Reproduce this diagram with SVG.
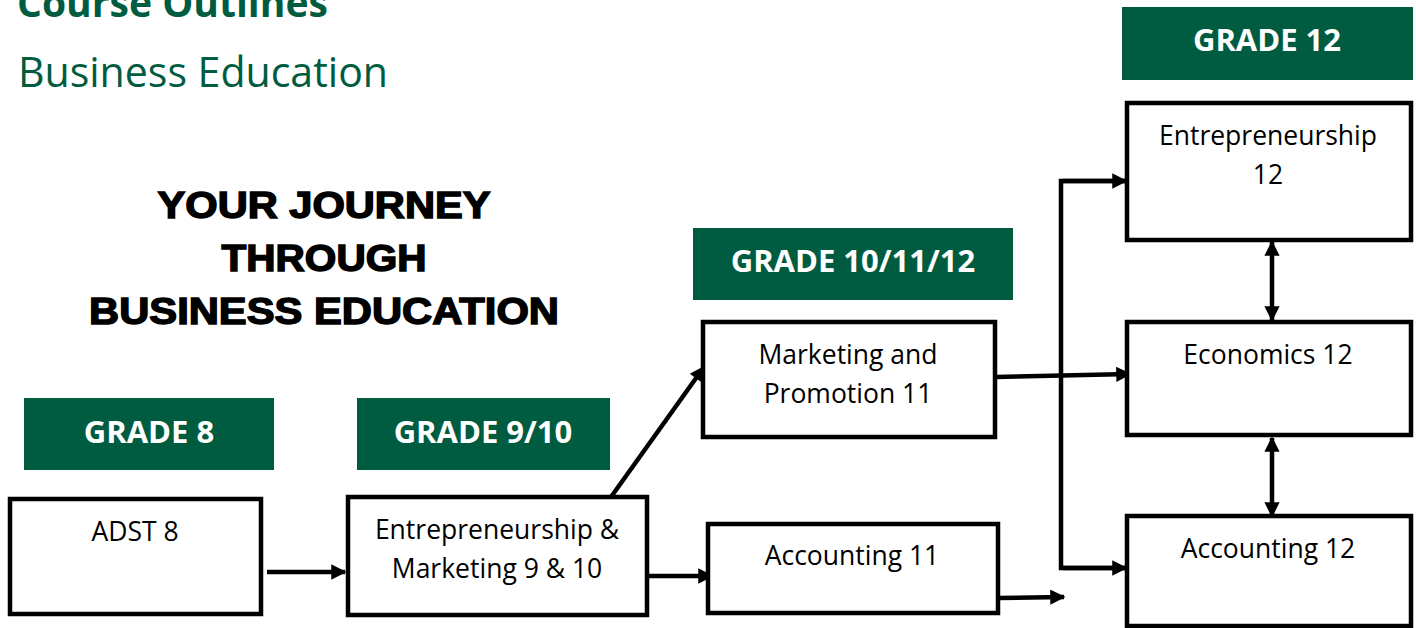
<svg xmlns="http://www.w3.org/2000/svg" width="1416" height="628" viewBox="0 0 1416 628">
<defs>
<style>
.hdr{font-family:"Open Sans","Liberation Sans",sans-serif;fill:#005C40}
.title{font-family:"Liberation Sans",Arial,sans-serif;font-weight:bold;font-size:36px;fill:#000;stroke:#000;stroke-width:1.4;text-anchor:middle}
.band{fill:#005C40}
.bandtxt{font-family:"Open Sans","Liberation Sans",sans-serif;font-weight:bold;font-size:31px;fill:#fff;text-anchor:middle}
.box{fill:#fff;stroke:#000;stroke-width:4.5}
.lbl{font-family:"Open Sans","Liberation Sans",sans-serif;font-size:26.5px;fill:#000;text-anchor:middle}
.ln{fill:none;stroke:#000;stroke-width:4.5}
</style>
<marker id="ah" viewBox="0 0 10 10" refX="9" refY="5" markerWidth="3.8" markerHeight="3.4" orient="auto" markerUnits="strokeWidth">
<path d="M0,0 L10,5 L0,10 z" fill="#000"/>
</marker>
<marker id="ahs" viewBox="0 0 10 10" refX="9" refY="5" markerWidth="3.8" markerHeight="3.4" orient="auto-start-reverse" markerUnits="strokeWidth">
<path d="M0,0 L10,5 L0,10 z" fill="#000"/>
</marker>
</defs>
<rect width="1416" height="628" fill="#fff"/>

<g id="header">
<text class="hdr" x="17" y="17" font-size="40" font-weight="bold" textLength="311" lengthAdjust="spacingAndGlyphs">Course Outlines</text>
<text class="hdr" x="18" y="87" font-size="42" textLength="370" lengthAdjust="spacingAndGlyphs">Business Education</text>
</g>

<g id="title">
<text class="title" x="324" y="218" textLength="333" lengthAdjust="spacingAndGlyphs">YOUR JOURNEY</text>
<text class="title" x="324" y="271" textLength="205" lengthAdjust="spacingAndGlyphs">THROUGH</text>
<text class="title" x="324" y="324" textLength="470" lengthAdjust="spacingAndGlyphs">BUSINESS EDUCATION</text>
</g>

<g id="grade8"><rect class="band" x="24" y="398" width="250" height="72"/><text class="bandtxt" x="149" y="443">GRADE 8</text></g>
<g id="grade910"><rect class="band" x="357" y="398" width="253" height="72"/><text class="bandtxt" x="483" y="443">GRADE 9/10</text></g>
<g id="grade101112"><rect class="band" x="693" y="228" width="320" height="72"/><text class="bandtxt" x="853" y="272">GRADE 10/11/12</text></g>
<g id="grade12"><rect class="band" x="1122" y="7" width="291" height="73"/><text class="bandtxt" x="1267" y="51">GRADE 12</text></g>

<g id="connectors">
<line class="ln" x1="267" y1="572" x2="345" y2="572" marker-end="url(#ah)"/>
<line class="ln" x1="647" y1="576" x2="712" y2="576" marker-end="url(#ah)"/>
<line class="ln" x1="611" y1="497" x2="704" y2="367" marker-end="url(#ah)"/>
<line class="ln" x1="996" y1="377" x2="1130" y2="374" marker-end="url(#ah)"/>
<line class="ln" x1="998" y1="598" x2="1064" y2="597" marker-end="url(#ah)"/>
<polyline class="ln" points="1125,181 1061,181 1061,568 1125,568"/>
<line class="ln" x1="1063" y1="181" x2="1126" y2="181" marker-end="url(#ah)"/>
<line class="ln" x1="1063" y1="568" x2="1126" y2="568" marker-end="url(#ah)"/>
<line class="ln" x1="1272" y1="242" x2="1272" y2="320" marker-start="url(#ahs)" marker-end="url(#ahs)"/>
<line class="ln" x1="1272" y1="438" x2="1272" y2="516" marker-start="url(#ahs)" marker-end="url(#ahs)"/>
</g>

<g id="adst8"><rect class="box" x="10" y="499" width="251" height="115"/><text class="lbl" x="135" y="541">ADST 8</text></g>
<g id="em910"><rect class="box" x="348" y="497" width="299" height="118"/><text class="lbl" x="497" y="539">Entrepreneurship &amp;</text><text class="lbl" x="497" y="578">Marketing 9 &amp; 10</text></g>
<g id="mp11"><rect class="box" x="703" y="322" width="292" height="115"/><text class="lbl" x="848" y="364">Marketing and</text><text class="lbl" x="848" y="403">Promotion 11</text></g>
<g id="acc11"><rect class="box" x="708" y="524" width="290" height="89"/><text class="lbl" x="852" y="565">Accounting 11</text></g>
<g id="ent12"><rect class="box" x="1127" y="103" width="284" height="137"/><text class="lbl" x="1268" y="145">Entrepreneurship</text><text class="lbl" x="1268" y="184">12</text></g>
<g id="econ12"><rect class="box" x="1127" y="322" width="284" height="113"/><text class="lbl" x="1268" y="364">Economics 12</text></g>
<g id="acc12"><rect class="box" x="1127" y="516" width="284" height="110"/><text class="lbl" x="1268" y="558">Accounting 12</text></g>
</svg>
